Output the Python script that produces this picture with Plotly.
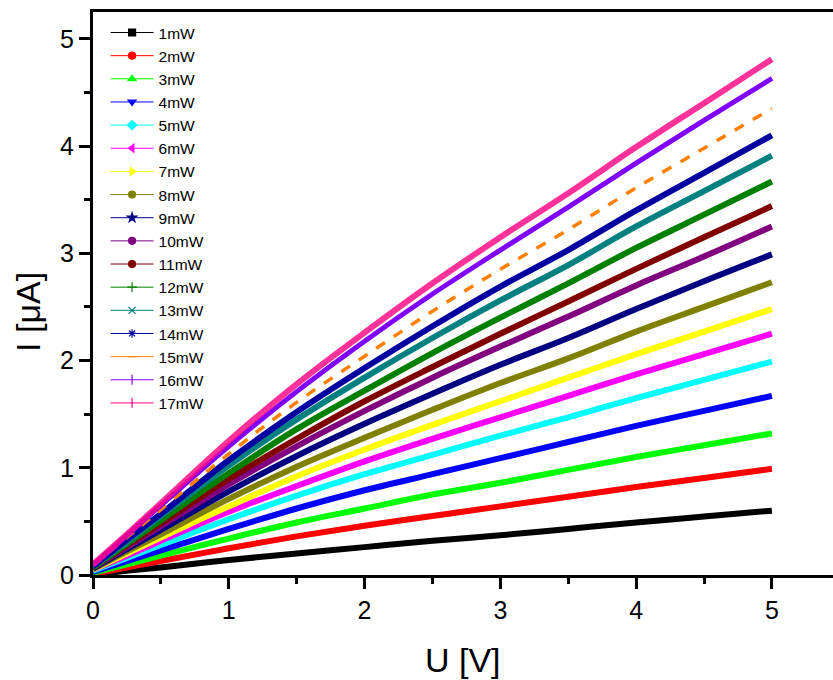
import plotly.graph_objects as go

U = [0, 0.25, 0.5, 1, 1.5, 2, 2.5, 3, 3.5, 4, 4.5, 5]

I_1mW = [0.00, 0.04, 0.07, 0.14, 0.20, 0.26, 0.32, 0.37, 0.43, 0.49, 0.545, 0.60]
I_2mW = [0.01, 0.07, 0.13, 0.25, 0.36, 0.46, 0.55, 0.64, 0.73, 0.82, 0.905, 0.99]
I_3mW = [0.02, 0.10, 0.18, 0.34, 0.49, 0.62, 0.75, 0.86, 0.98, 1.10, 1.21, 1.32]
I_4mW = [0.03, 0.13, 0.23, 0.43, 0.62, 0.79, 0.94, 1.09, 1.24, 1.39, 1.53, 1.67]
I_5mW = [0.04, 0.16, 0.28, 0.52, 0.74, 0.94, 1.12, 1.30, 1.47, 1.65, 1.82, 1.99]
I_6mW = [0.05, 0.18, 0.32, 0.59, 0.83, 1.06, 1.27, 1.47, 1.67, 1.87, 2.06, 2.25]
I_7mW = [0.05, 0.20, 0.35, 0.64, 0.92, 1.17, 1.40, 1.62, 1.84, 2.06, 2.27, 2.48]
I_8mW = [0.055, 0.22, 0.38, 0.71, 1.01, 1.28, 1.54, 1.79, 2.02, 2.27, 2.50, 2.73]
I_9mW = [0.06, 0.24, 0.42, 0.78, 1.11, 1.41, 1.69, 1.96, 2.21, 2.48, 2.74, 2.99]
I_10mW = [0.065, 0.26, 0.455, 0.845, 1.20, 1.53, 1.84, 2.13, 2.41, 2.70, 2.97, 3.25]
I_11mW = [0.07, 0.275, 0.48, 0.895, 1.27, 1.62, 1.94, 2.25, 2.55, 2.855, 3.15, 3.44]
I_12mW = [0.07, 0.29, 0.51, 0.95, 1.36, 1.72, 2.07, 2.40, 2.72, 3.05, 3.36, 3.67]
I_13mW = [0.08, 0.31, 0.55, 1.02, 1.45, 1.84, 2.21, 2.56, 2.89, 3.25, 3.58, 3.91]
I_14mW = [0.08, 0.33, 0.57, 1.07, 1.52, 1.93, 2.32, 2.69, 3.03, 3.40, 3.75, 4.10]
I_15mW = [0.09, 0.35, 0.61, 1.13, 1.61, 2.04, 2.46, 2.85, 3.22, 3.61, 3.98, 4.35]
I_16mW = [0.09, 0.37, 0.65, 1.20, 1.71, 2.18, 2.62, 3.03, 3.43, 3.84, 4.24, 4.63]
I_17mW = [0.10, 0.38, 0.67, 1.25, 1.78, 2.26, 2.72, 3.15, 3.56, 3.99, 4.40, 4.81]

names = ["1mW", "2mW", "3mW", "4mW", "5mW", "6mW", "7mW", "8mW", "9mW",
         "10mW", "11mW", "12mW", "13mW", "14mW", "15mW", "16mW", "17mW"]
series = [I_1mW, I_2mW, I_3mW, I_4mW, I_5mW, I_6mW, I_7mW, I_8mW, I_9mW,
          I_10mW, I_11mW, I_12mW, I_13mW, I_14mW, I_15mW, I_16mW, I_17mW]

colors = ["#000000", "#FF0000", "#00FF00", "#0000FF", "#00FFFF", "#FF00FF",
          "#FFFF00", "#808000", "#000080", "#800080", "#800000", "#008000",
          "#008080", "#0000A0", "#FF8000", "#8000FF", "#FF0080"]
symbols = ["square", "circle", "triangle-up", "triangle-down", "diamond",
           "triangle-left", "triangle-right", "circle", "star", "circle",
           "circle", "cross-thin", "x-thin", "asterisk", "line-ew",
           "line-ns", "line-ns"]

fig = go.Figure()
for name, ys, c in zip(names, series, colors):
    w = 6
    dash = "solid"
    op = 1.0
    if name == "15mW":
        w, dash = 3.5, "dash"
    if name == "16mW":
        w = 5
    if name == "17mW":
        op = 0.8
    fig.add_trace(go.Scatter(
        x=U, y=ys, mode="lines", line=dict(color=c, width=w, dash=dash, shape="spline"),
        opacity=op, showlegend=False, legendgroup=name, hoverinfo="skip"))

for name, c, s in zip(names, colors, symbols):
    fig.add_trace(go.Scatter(
        x=[None], y=[None], mode="lines+markers", name=name, legendgroup=name,
        line=dict(color=c, width=1),
        marker=dict(symbol=s, size=7, color=c, line=dict(color=c, width=1.2))))

font_family = "Liberation Sans, Arial"
axis_common = dict(
    showline=True, linecolor="black", linewidth=3,
    ticks="outside", ticklen=11, tickwidth=2.5, tickcolor="black",
    showgrid=False, zeroline=False,
    tickfont=dict(family=font_family, size=25, color="black"),
    minor=dict(ticks="outside", ticklen=6, tickwidth=2.5, tickcolor="black",
               dtick=0.5, showgrid=False),
)

fig.update_xaxes(range=[0, 5.45], dtick=1, tick0=0, mirror=True, **axis_common)
fig.update_yaxes(range=[0, 5.25], dtick=1, tick0=0, mirror=False, **axis_common)

fig.add_annotation(text="U [V]", xref="paper", yref="paper", x=0.5, y=-0.151,
                   xanchor="center", yanchor="middle", showarrow=False,
                   font=dict(family=font_family, size=34, color="black"))
fig.add_annotation(text="I [μA]", xref="paper", yref="paper", x=-0.088, y=0.467,
                   xanchor="center", yanchor="middle", showarrow=False, textangle=-90,
                   font=dict(family=font_family, size=34, color="black"))

fig.update_layout(
    width=833, height=680,
    margin=dict(l=93, r=0, t=12, b=105),
    paper_bgcolor="white", plot_bgcolor="white",
    legend=dict(x=0.017, y=0.993, xanchor="left", yanchor="top",
                bgcolor="rgba(0,0,0,0)", borderwidth=0,
                font=dict(family=font_family, size=15.5, color="black"),
                itemwidth=43, tracegroupgap=0),
)

fig.write_html("out.html")
